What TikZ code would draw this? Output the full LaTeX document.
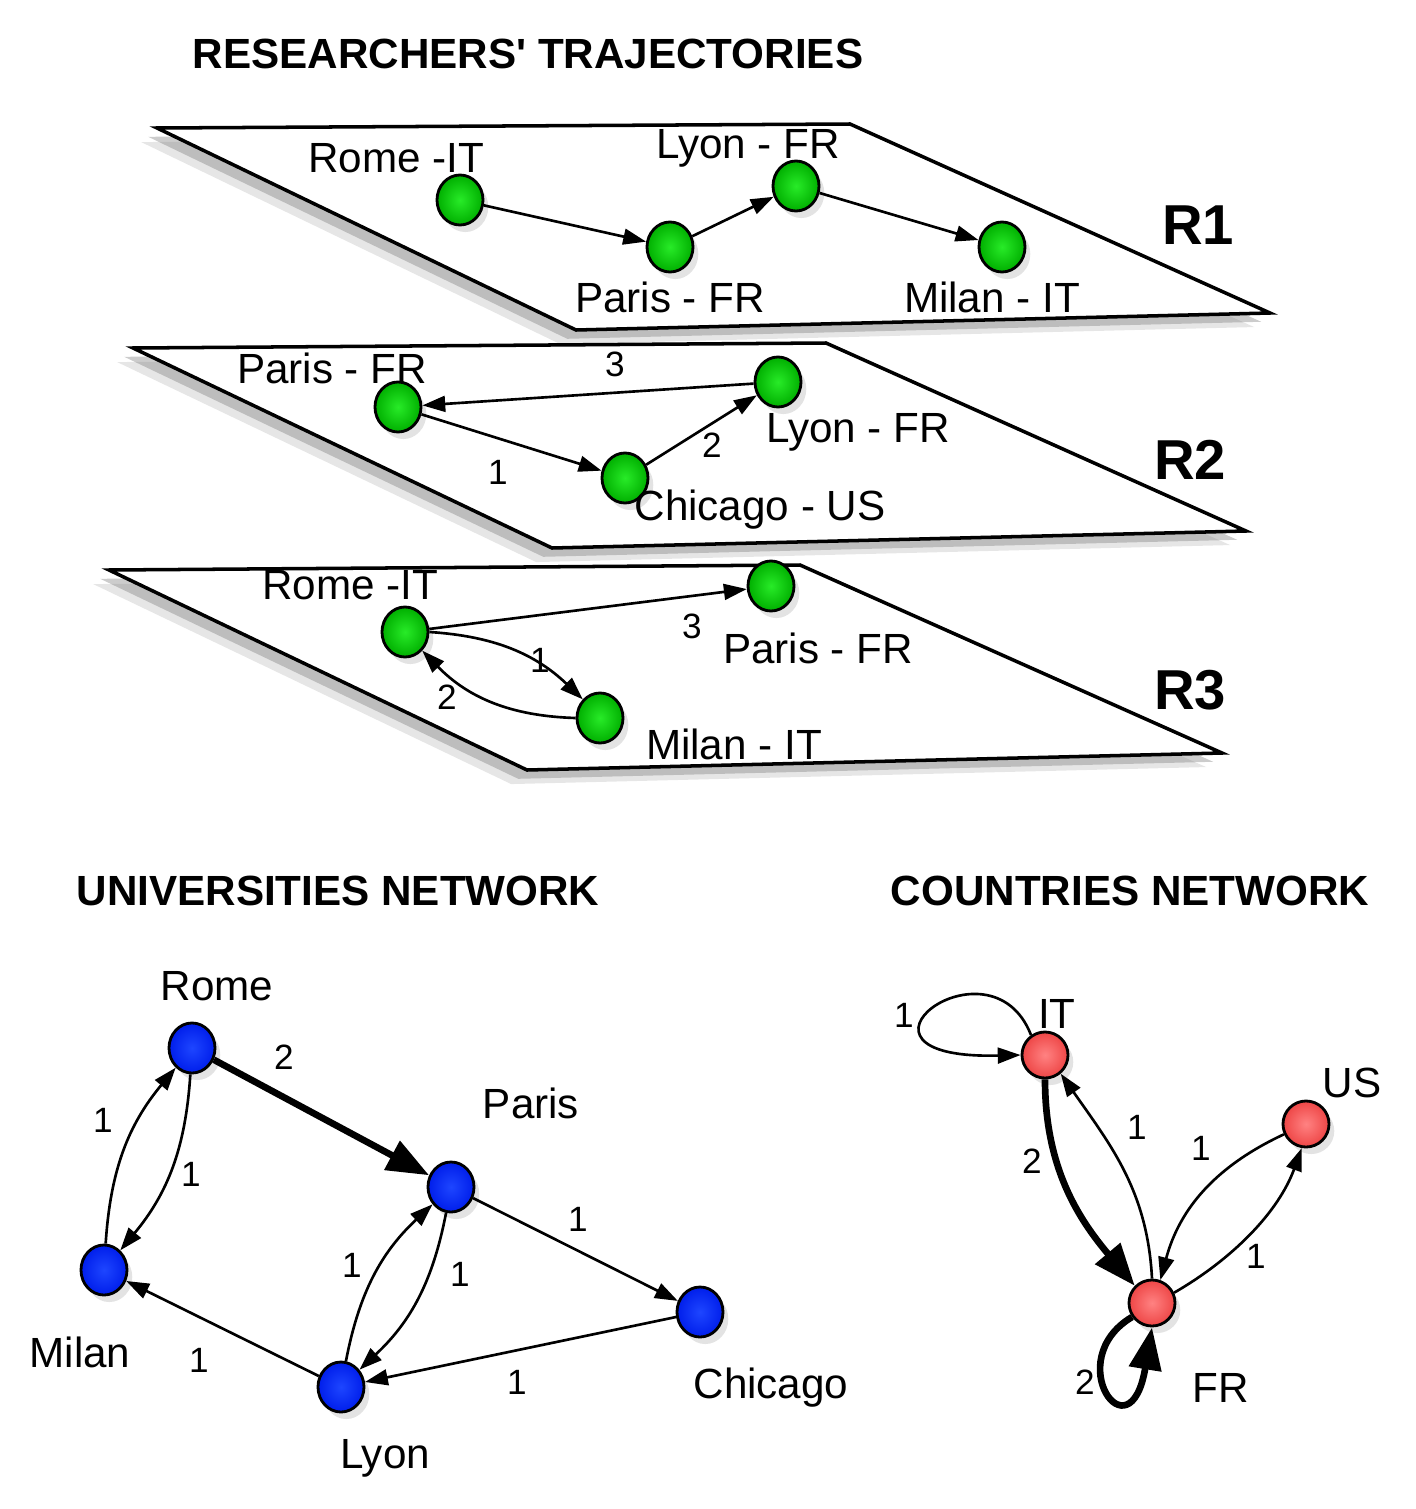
\documentclass[tikz,border=0pt]{standalone}
\usepackage{fontspec}
\setmainfont{Liberation Sans}
\usetikzlibrary{arrows.meta,positioning,shapes.geometric,shadows}
\definecolor{greenI}{RGB}{40,235,40}
\definecolor{greenO}{RGB}{0,175,0}
\definecolor{blueI}{RGB}{30,70,255}
\definecolor{blueO}{RGB}{0,30,235}
\definecolor{redI}{RGB}{255,130,130}
\definecolor{redO}{RGB}{238,70,70}
\tikzset{
  plane/.style={draw=black, line width=1pt, fill=white,
                drop shadow={shadow xshift=-4.5pt, shadow yshift=-4pt, opacity=0.2},
                drop shadow={shadow xshift=-2.5pt, shadow yshift=-2.5pt, opacity=0.4}},
  city/.style={ellipse, draw=black, line width=0.8pt, inner sep=0pt,
               minimum width=0.46cm, minimum height=0.5cm, shading=radial,
               inner color=#1I, outer color=#1O,
               drop shadow={shadow xshift=1.5pt, shadow yshift=-2pt, opacity=0.22}},
  land/.style={circle, draw=black, line width=0.8pt, inner sep=0pt,
               minimum size=0.46cm, shading=radial, inner color=redI, outer color=redO,
               drop shadow={shadow xshift=1.5pt, shadow yshift=-2pt, opacity=0.22}},
  lab/.style={font=\fontsize{12}{14}\selectfont, inner sep=0pt},
  wlab/.style={font=\fontsize{10}{12}\selectfont, inner sep=0pt},
  ttl/.style={font=\bfseries\fontsize{12}{14}\selectfont, inner sep=0pt},
  rlab/.style={font=\bfseries\fontsize{16}{18}\selectfont, inner sep=0pt},
  arr/.style={-{Triangle[length=6.5pt,width=4.5pt]}, line width=0.75pt},
  heavy/.style={-{Triangle[length=12pt,width=9pt]}, line width=1.9pt},
}
\begin{document}
\begin{tikzpicture}[x=0.01cm, y=0.01cm]
  \useasboundingbox (0,0) rectangle (1416,-1509);

  % researchers' trajectories
  \node[ttl] (t1) at (528,-54) {RESEARCHERS\textquotesingle\ TRAJECTORIES};

  \draw[plane] (157,-128) -- (850,-124) -- (1270,-313) -- (576,-330) -- cycle;
  \draw[plane] (133,-348) -- (826,-343) -- (1246,-531) -- (552,-548) -- cycle;
  \draw[plane] (109,-570) -- (800,-565) -- (1222,-753) -- (527,-770) -- cycle;

  % R1
  \node[city=green] (a1) at (460,-200) {};
  \node[city=green] (a2) at (670,-247) {};
  \node[city=green] (a3) at (796,-186) {};
  \node[city=green] (a4) at (1002,-247) {};
  \node[lab] at (396,-158) {Rome -IT};
  \node[lab] at (670,-297) {Paris - FR};
  \node[lab] at (748,-148) {Lyon - FR};
  \node[lab] at (992,-297) {Milan - IT};
  \node[rlab] at (1198,-225) {R1};
  \draw[arr] (a1) -- (a2);
  \draw[arr] (a2) -- (a3);
  \draw[arr] (a3) -- (a4);

  % R2
  \node[city=green] (b1) at (398,-407) {};
  \node[city=green] (b2) at (625,-478) {};
  \node[city=green] (b3) at (778,-382) {};
  \node[lab] at (332,-368) {Paris - FR};
  \node[lab] at (858,-432) {Lyon - FR};
  \node[lab] at (760,-510) {Chicago - US};
  \node[rlab] at (1190,-460) {R2};
  \draw[arr] (b1) -- (b2);
  \draw[arr] (b2) -- (b3);
  \draw[arr] (b3) -- (b1);
  \node[wlab] at (498,-472) {1};
  \node[wlab] at (712,-445) {2};
  \node[wlab] at (615,-364) {3};

  % R3
  \node[city=green] (c1) at (405,-632) {};
  \node[city=green] (c2) at (600,-718) {};
  \node[city=green] (c3) at (771,-586) {};
  \node[lab] at (350,-585) {Rome -IT};
  \node[lab] at (818,-648) {Paris - FR};
  \node[lab] at (734,-744) {Milan - IT};
  \node[rlab] at (1190,-690) {R3};
  \draw[arr] (c1) -- (c3);
  \draw[arr] (c1.east) to[bend left=20] (c2.north west);
  \draw[arr] (c2.west) to[bend left=22] (c1.south east);
  \node[wlab] at (540,-660) {1};
  \node[wlab] at (447,-697) {2};
  \node[wlab] at (692,-626) {3};

  % universities network
  \node[ttl] (t2) at (338,-891) {UNIVERSITIES NETWORK};
  \node[city=blue] (rome) at (192,-1048) {};
  \node[city=blue] (paris) at (451,-1187) {};
  \node[city=blue] (milan) at (104,-1270) {};
  \node[city=blue] (lyon) at (341,-1387) {};
  \node[city=blue] (chicago) at (700,-1312) {};
  \node[lab] at (217,-986) {Rome};
  \node[lab] at (531,-1103) {Paris};
  \node[lab] at (80,-1352) {Milan};
  \node[lab] at (385,-1458) {Lyon};
  \node[lab] at (771,-1388) {Chicago};
  \draw[heavy] (rome) -- (paris);
  \draw[arr] (milan) to[bend left=18] (rome);
  \draw[arr] (rome) to[bend left=18] (milan);
  \draw[arr] (lyon) to[bend left=18] (paris);
  \draw[arr] (paris) to[bend left=18] (lyon);
  \draw[arr] (paris) -- (chicago);
  \draw[arr] (chicago) -- (lyon);
  \draw[arr] (lyon) -- (milan);
  \node[wlab] at (284,-1057) {2};
  \node[wlab] at (103,-1120) {1};
  \node[wlab] at (191,-1174) {1};
  \node[wlab] at (352,-1265) {1};
  \node[wlab] at (460,-1274) {1};
  \node[wlab] at (578,-1219) {1};
  \node[wlab] at (517,-1382) {1};
  \node[wlab] at (199,-1360) {1};

  % countries network
  \node[ttl] (t3) at (1130,-891) {COUNTRIES NETWORK};
  \node[land] (it) at (1045,-1055) {};
  \node[land] (us) at (1306,-1124) {};
  \node[land] (fr) at (1152,-1303) {};
  \node[lab] at (1057,-1014) {IT};
  \node[lab] at (1352,-1083) {US};
  \node[lab] at (1221,-1388) {FR};
  \draw[arr] (it.125) .. controls (990,-930) and (820,-1060) .. (it.west);
  \draw[heavy] (it.south) to[out=-90, in=130] (fr.135);
  \draw[arr] (fr.north) to[out=93, in=-55] (it.-50);
  \draw[arr] (us.205) to[out=205, in=75] (fr.70);
  \draw[arr] (fr.25) to[out=30, in=-110, looseness=0.9] (us.-100);
  \draw[heavy] (fr.215) .. controls (1060,-1360) and (1130,-1460) .. (fr.south);
  \node[wlab] at (904,-1015) {1};
  \node[wlab] at (1032,-1161) {2};
  \node[wlab] at (1137,-1127) {1};
  \node[wlab] at (1201,-1148) {1};
  \node[wlab] at (1256,-1256) {1};
  \node[wlab] at (1085,-1382) {2};
\end{tikzpicture}
\end{document}
